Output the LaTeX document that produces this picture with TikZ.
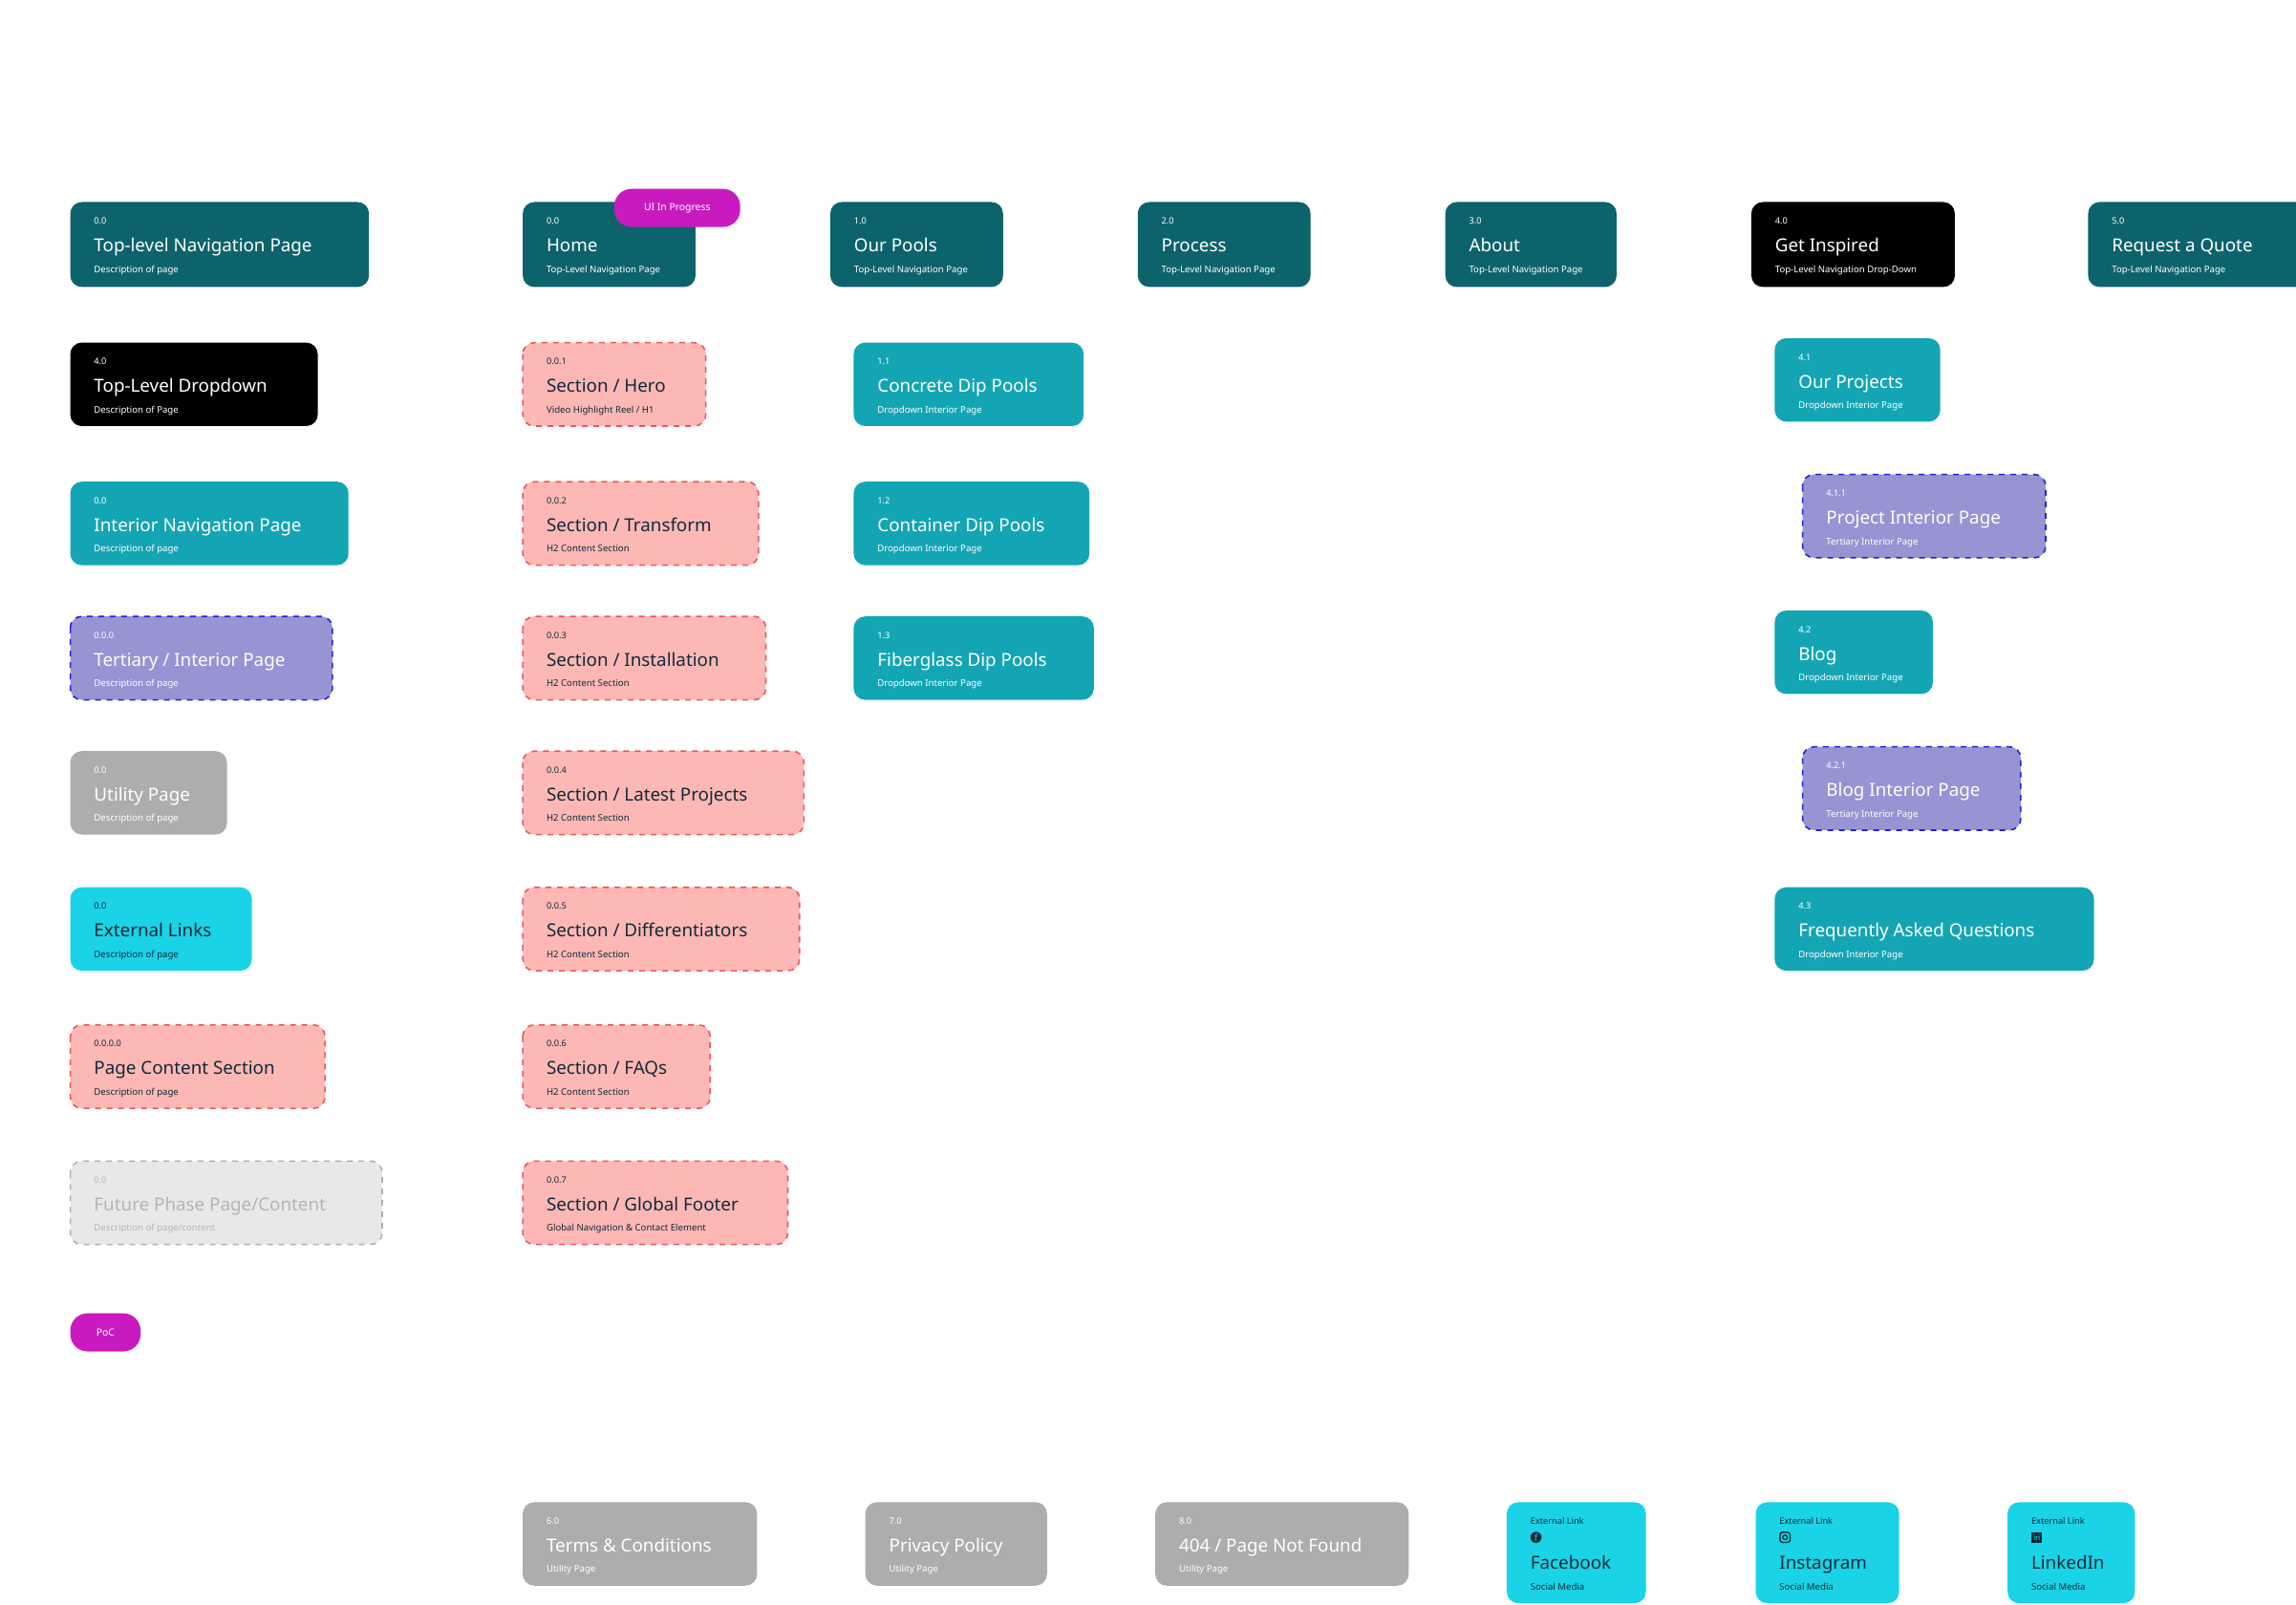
\documentclass[tikz,border=0pt]{standalone}
\usepackage{fontspec}
\usetikzlibrary{calc}
\setmainfont{Noto Sans}
\definecolor{dteal}{HTML}{0D636B}
\definecolor{teal}{HTML}{14A5B5}
\definecolor{purp}{HTML}{9794D3}
\definecolor{purpb}{HTML}{2323D9}
\definecolor{grey}{HTML}{ADADAD}
\definecolor{cyan}{HTML}{1AD3E6}
\definecolor{pink}{HTML}{FDB8B5}
\definecolor{pinkb}{HTML}{E85A5A}
\definecolor{fut}{HTML}{E8E8E8}
\definecolor{futb}{HTML}{B0B0B0}
\definecolor{futt}{HTML}{B5B5B5}
\definecolor{mag}{HTML}{C91AC0}
\definecolor{navy}{HTML}{102A3A}
\tikzset{
 numf/.style={anchor=base west,inner sep=0,font=\fontsize{4.6}{5}\selectfont},
 titf/.style={anchor=base west,inner sep=0,font=\fontsize{9.4}{11}\selectfont\bfseries},
 desf/.style={anchor=base west,inner sep=0,font=\fontsize{4.8}{5}\selectfont},
 cD/.style={box/.style={fill=dteal,rounded corners=6pt}, every node/.append style={text=white}},
 cB/.style={box/.style={fill=black,rounded corners=6pt}, every node/.append style={text=white}},
 cT/.style={box/.style={fill=teal,rounded corners=6pt}, every node/.append style={text=white}},
 cP/.style={box/.style={fill=purp,draw=purpb,dashed,line width=0.8pt,rounded corners=6pt}, every node/.append style={text=white}},
 cG/.style={box/.style={fill=grey,rounded corners=6pt}, every node/.append style={text=white}},
 cC/.style={box/.style={fill=cyan,rounded corners=6pt}, every node/.append style={text=navy}},
 cK/.style={box/.style={fill=pink,draw=pinkb,dashed,line width=0.8pt,rounded corners=6pt}, every node/.append style={text=navy}},
 cF/.style={box/.style={fill=fut,draw=futb,dashed,line width=0.8pt,rounded corners=6pt}, every node/.append style={text=futt}},
 pill/.style={fill=mag,text=white,rounded corners=9pt,font=\fontsize{5.2}{6}\selectfont\bfseries,inner sep=0}
}
\newcommand\pg[9]{%
\begin{scope}[#6]
\path[box] (#2,#3) rectangle (#4,#5);
\node[numf] (#1n) at (#2+16,#3+15) {#7};
\node[titf] (#1t) at (#2+16,#3+34) {#8};
\node[desf] (#1d) at (#2+16,#3+48) {#9};
\end{scope}}
\newcommand\soc[5]{% name x1 x2 title icon
\begin{scope}[cC]
\path[box] (#2,1026) rectangle (#3,1095);
\node[numf] (#1n) at (#2+16,1041) {External Link};
\coordinate (#1i) at (#2+20,1050);
\node[titf] (#1t) at (#2+16,1072) {#4};
\node[desf] (#1d) at (#2+16,1086) {Social Media};
#5
\end{scope}}
\begin{document}
\begin{tikzpicture}[x=0.766pt,y=-0.766pt]
\useasboundingbox[fill=white] (0,0) rectangle (1568,1096);
\pg{a1}{48}{138}{252}{196}{cD}{0.0}{Top-level Navigation Page}{Description of page}
\pg{a2}{48}{234}{217}{291}{cB}{4.0}{Top-Level Dropdown}{Description of Page}
\pg{a3}{48}{329}{238}{386}{cT}{0.0}{Interior Navigation Page}{Description of page}
\pg{a4}{48}{421}{227}{478}{cP}{0.0.0}{Tertiary / Interior Page}{Description of page}
\pg{a5}{48}{513}{155}{570}{cG}{0.0}{Utility Page}{Description of page}
\pg{a6}{48}{606}{172}{663}{cC}{0.0}{External Links}{Description of page}
\pg{a7}{48}{700}{222}{757}{cK}{0.0.0.0}{Page Content Section}{Description of page}
\pg{a8}{48}{793}{261}{850}{cF}{0.0}{Future Phase Page/Content}{Description of page/content}
\node[pill,minimum width=48*0.766pt,minimum height=26*0.766pt] (poc) at (72,910) {PoC};
\pg{h}{357}{138}{475}{196}{cD}{0.0}{Home}{Top-Level Navigation Page}
\node[pill,minimum width=86*0.766pt,minimum height=26*0.766pt] (uip) at (462.5,142) {UI In Progress};
\pg{s1}{357}{234}{482}{291}{cK}{0.0.1}{Section / Hero}{Video Highlight Reel / H1}
\pg{s2}{357}{329}{518}{386}{cK}{0.0.2}{Section / Transform}{H2 Content Section}
\pg{s3}{357}{421}{523}{478}{cK}{0.0.3}{Section / Installation}{H2 Content Section}
\pg{s4}{357}{513}{549}{570}{cK}{0.0.4}{Section / Latest Projects}{H2 Content Section}
\pg{s5}{357}{606}{546}{663}{cK}{0.0.5}{Section / Differentiators}{H2 Content Section}
\pg{s6}{357}{700}{485}{757}{cK}{0.0.6}{Section / FAQs}{H2 Content Section}
\pg{s7}{357}{793}{538}{850}{cK}{0.0.7}{Section / Global Footer}{Global Navigation \& Contact Element}
\pg{op}{567}{138}{685}{196}{cD}{1.0}{Our Pools}{Top-Level Navigation Page}
\pg{p1}{583}{234}{740}{291}{cT}{1.1}{Concrete Dip Pools}{Dropdown Interior Page}
\pg{p2}{583}{329}{744}{386}{cT}{1.2}{Container Dip Pools}{Dropdown Interior Page}
\pg{p3}{583}{421}{747}{478}{cT}{1.3}{Fiberglass Dip Pools}{Dropdown Interior Page}
\pg{pr}{777}{138}{895}{196}{cD}{2.0}{Process}{Top-Level Navigation Page}
\pg{ab}{987}{138}{1104}{196}{cD}{3.0}{About}{Top-Level Navigation Page}
\pg{gi}{1196}{138}{1335}{196}{cB}{4.0}{Get Inspired}{Top-Level Navigation Drop-Down}
\pg{rq}{1426}{138}{1580}{196}{cD}{5.0}{Request a Quote}{Top-Level Navigation Page}
\pg{g1}{1212}{231}{1325}{288}{cT}{4.1}{Our Projects}{Dropdown Interior Page}
\pg{g2}{1231}{324}{1397}{381}{cP}{4.1.1}{Project Interior Page}{Tertiary Interior Page}
\pg{g3}{1212}{417}{1320}{474}{cT}{4.2}{Blog}{Dropdown Interior Page}
\pg{g4}{1231}{510}{1380}{567}{cP}{4.2.1}{Blog Interior Page}{Tertiary Interior Page}
\pg{g5}{1212}{606}{1430}{663}{cT}{4.3}{Frequently Asked Questions}{Dropdown Interior Page}
\pg{u1}{357}{1026}{517}{1083}{cG}{6.0}{Terms \& Conditions}{Utility Page}
\pg{u2}{591}{1026}{715}{1083}{cG}{7.0}{Privacy Policy}{Utility Page}
\pg{u3}{789}{1026}{962}{1083}{cG}{8.0}{404 / Page Not Found}{Utility Page}
\soc{fb}{1029}{1124}{Facebook}{\fill[navy] (fbi) circle (3.8);\node[text=cyan,inner sep=0,font=\fontsize{5}{5}\selectfont\bfseries] at (fbi) {f};}
\soc{ig}{1199}{1297}{Instagram}{\draw[navy,line width=0.7pt,rounded corners=1.5pt] ($(igi)+(-3.5,-3.5)$) rectangle ($(igi)+(3.5,3.5)$);\draw[navy,line width=0.6pt] (igi) circle (1.6);}
\soc{li}{1371}{1458}{LinkedIn}{\fill[navy] ($(lii)+(-3.5,-3.5)$) rectangle ($(lii)+(3.5,3.5)$);\node[text=cyan,inner sep=0,font=\fontsize{4}{4}\selectfont\bfseries] at (lii) {in};}
\end{tikzpicture}
\end{document}
